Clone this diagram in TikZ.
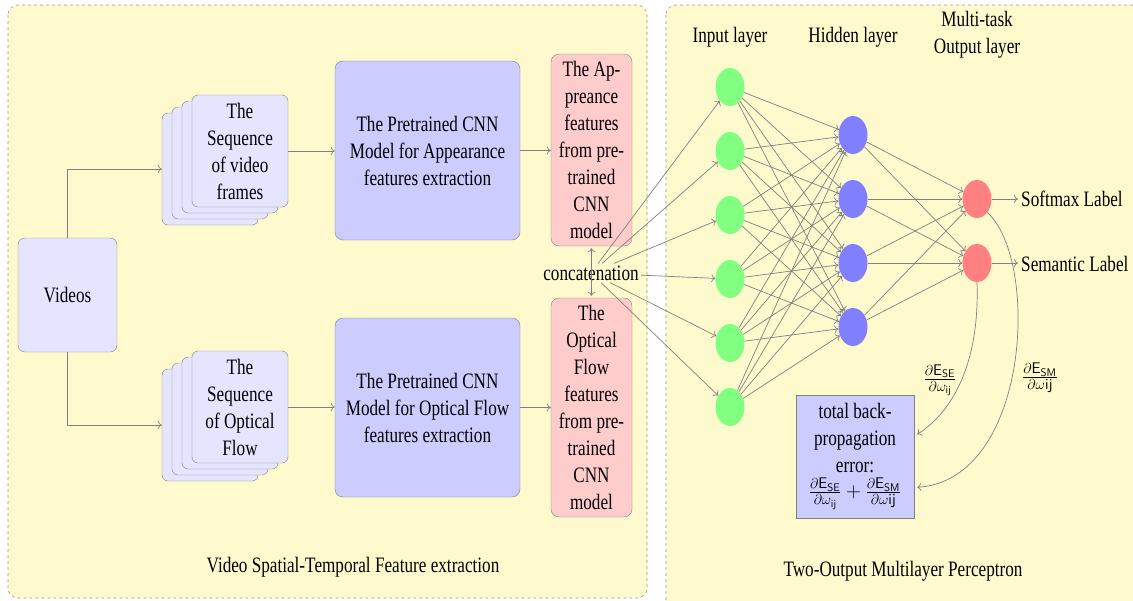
\documentclass[tikz,border=0pt]{standalone}
\usepackage{fontspec}
\setmainfont{Liberation Serif}[FakeStretch=0.78]
\usetikzlibrary{shapes.geometric,calc,arrows.meta}
\definecolor{panel}{RGB}{255,250,205}
\definecolor{lineg}{RGB}{128,128,128}
\tikzset{
  panelbox/.style={draw=lineg!80, dashed, fill=panel, rounded corners=10pt, line width=0.6pt},
  vidbox/.style={draw=lineg, fill=blue!10, rounded corners=7pt, minimum width=99pt, minimum height=114pt, inner sep=0pt},
  card/.style={draw=lineg, fill=blue!10, rounded corners=6pt, minimum width=96pt, minimum height=112pt, align=center, inner sep=0pt},
  cnnbox/.style={draw=lineg, fill=blue!20, rounded corners=8pt, minimum width=185pt, minimum height=179pt, align=center, inner sep=0pt},
  featbox/.style={draw=lineg, fill=red!20, rounded corners=8pt, minimum width=81pt, align=center, inner sep=0pt},
  bpbox/.style={draw=lineg, fill=blue!20, minimum width=118pt, minimum height=123pt, align=center, inner sep=0pt},
  link/.style={draw=lineg, -{To[length=4pt,width=8pt]}, line width=0.7pt},
  dlink/.style={draw=lineg, {To[length=4pt,width=8pt]}-{To[length=4pt,width=8pt]}, line width=0.7pt},
  neuron/.style={ellipse, minimum width=29pt, minimum height=38pt, inner sep=0pt},
  inn/.style={neuron, fill=green!50},
  hid/.style={neuron, fill=blue!50},
  outn/.style={neuron, fill=red!50},
  lbl/.style={align=center, inner sep=1pt},
}
\begin{document}
\begin{tikzpicture}[x=1pt,y=-1pt,font=\fontsize{22}{27}\selectfont]
\useasboundingbox (0,0) rectangle (1133,600);
\clip (0,0) rectangle (1133,600);
% panels
\draw[panelbox] (8,5) rectangle (647,598);
\draw[panelbox] (666,5) rectangle (1150,615);

% videos
\node[vidbox] (vid) at (67.5,295) {Videos};

% top stack
\node[card] (s1d) at (210,169) {};
\node[card] (s1c) at (220,163) {};
\node[card] (s1b) at (230,157) {};
\node[card] (s1a) at (240,151) {The\\Sequence\\of video\\frames};
% bottom stack
\node[card] (s2d) at (210,425) {};
\node[card] (s2c) at (220,419) {};
\node[card] (s2b) at (230,413) {};
\node[card] (s2a) at (240,407) {The\\Sequence\\of Optical\\Flow};

% CNN boxes
\node[cnnbox] (cnn1) at (427.5,150.5) {The Pretrained CNN\\Model for Appearance\\features extraction};
\node[cnnbox] (cnn2) at (427.5,407.5) {The Pretrained CNN\\Model for Optical Flow\\features extraction};

% feature boxes
\node[featbox, minimum height=192pt] (f1) at (591.5,150) {The Ap-\\preance\\features\\from pre-\\trained\\CNN\\model};
\node[featbox, minimum height=219pt] (f2) at (591.5,407.5) {The\\Optical\\Flow\\features\\from pre-\\trained\\CNN\\model};

\node[inner sep=2pt] (cat) at (591,273) {concatenation};

% left connectors
\draw[link] (vid.north) |- (s1d.west);
\draw[link] (vid.south) |- (s2d.west);
\draw[link] (s1a.east) -- (s1a.east -| cnn1.west);
\draw[link] (s2a.east) -- (s2a.east -| cnn2.west);
\draw[link] (cnn1.east) -- (cnn1.east -| f1.west);
\draw[link] (cnn2.east) -- (cnn2.east -| f2.west);
\draw[dlink] ([yshift=-2pt]f1.south) -- ([yshift=2pt]f2.north);

% network
\foreach \k/\y in {1/87,2/151,3/215,4/279,5/343,6/407}{
  \node[inn] (i\k) at (730,\y) {};
}
\foreach \k/\y in {1/135,2/199,3/263,4/327}{
  \node[hid] (h\k) at (853,\y) {};
}
\node[outn] (o1) at (977,199) {};
\node[outn] (o2) at (977,263) {};

\foreach \k in {1,...,6}{
  \draw[link] (cat) -- (i\k);
  \foreach \j in {1,...,4}{
    \draw[link] (i\k) -- (h\j);
  }
}
\foreach \j in {1,...,4}{
  \draw[link] (h\j) -- (o1);
  \draw[link] (h\j) -- (o2);
}

\node[anchor=west, inner sep=0pt] (l1) at (1021,199) {Softmax Label};
\node[anchor=west, inner sep=0pt] (l2) at (1021,264) {Semantic Label};
\draw[link] (o1) -- ([xshift=-3pt]l1.west);
\draw[link] (o2) -- ([xshift=-3pt]l2.west |- o2);

% layer titles
\node[lbl] (t1) at (730,37) {Input layer};
\node[lbl] (t2) at (853,37) {Hidden layer};
\node[lbl] (t3) at (977,35) {Multi-task\\Output layer};

% backprop box
\node[bpbox] (bp) at (855,456.5) {total back-\\propagation\\error:\\[-2pt]$\frac{\partial\mathsf{E}_{\mathsf{SE}}}{\partial\omega_{\mathsf{ij}}}+\frac{\partial\mathsf{E}_{\mathsf{SM}}}{\partial\omega\mathsf{ij}}$};
\coordinate (bpa) at ($(bp.north east)!0.32!(bp.south east)+(3,0)$);
\coordinate (bpb) at ($(bp.north east)!0.75!(bp.south east)+(3,0)$);
\draw[link] (o2.south) .. controls (980,370) and (948,415) .. (bpa);
\draw[link] (o1.south east) .. controls (1040,260) and (1030,480) .. (bpb);
\node[lbl] (d1) at (940,380) {$\frac{\partial\mathsf{E}_{\mathsf{SE}}}{\partial\omega_{\mathsf{ij}}}$};
\node[lbl] (d2) at (1040,378) {$\frac{\partial\mathsf{E}_{\mathsf{SM}}}{\partial\omega\mathsf{ij}}$};

% panel titles
\node[lbl] (p1) at (353,567) {Video Spatial-Temporal Feature extraction};
\node[lbl] (p2) at (903,571) {Two-Output Multilayer Perceptron};
\end{tikzpicture}
\end{document}
